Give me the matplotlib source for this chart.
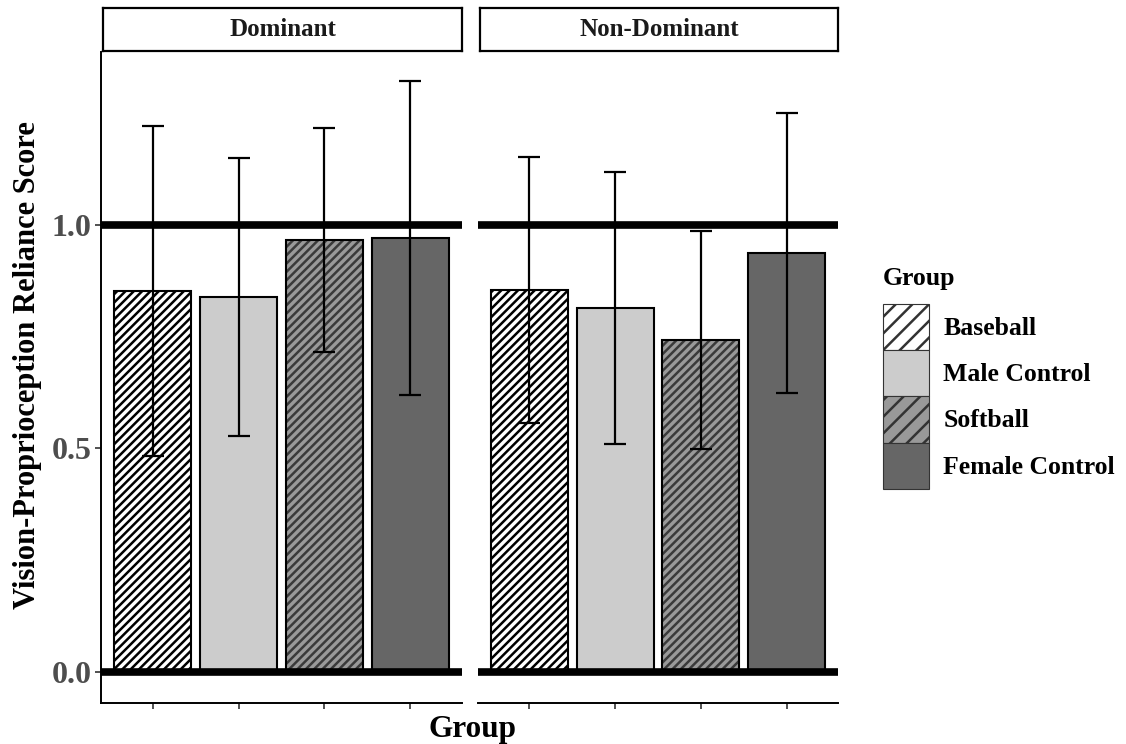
import matplotlib
matplotlib.use("Agg")
import matplotlib.pyplot as plt
from matplotlib.patches import Patch
import numpy as np

plt.rcParams['font.family'] = ['Liberation Serif', 'DejaVu Serif']
plt.rcParams['font.weight'] = 'bold'
plt.rcParams['hatch.linewidth'] = 1.8

groups = ["Baseball", "Male Control", "Softball", "Female Control"]
panels = ["Dominant", "Non-Dominant"]
# mean reliance score per panel, order as groups
means = {
    "Dominant": [0.852, 0.839, 0.966, 0.971],
    "Non-Dominant": [0.855, 0.814, 0.743, 0.937],
}
errs = {
    "Dominant": [0.369, 0.311, 0.251, 0.352],
    "Non-Dominant": [0.297, 0.305, 0.244, 0.313],
}
fills = ["#ffffff", "#cccccc", "#999999", "#666666"]
hatch_cols = ["#000000", "#cccccc", "#3a3a3a", "#666666"]
hatches = ["////", None, "////", None]
legend_hatches = ["//", None, "//", None]

fig = plt.figure(figsize=(11.26, 7.44), dpi=100)
W, H = 1126, 744

def fx(px):
    return px / W

def fy(py):
    return 1 - py / H

panel_x = [(101, 462), (478, 838)]
top, bottom = 52, 703

x = np.arange(1, 5)
for i, name in enumerate(panels):
    x0, x1 = panel_x[i]
    ax = fig.add_axes([fx(x0), fy(bottom), fx(x1 - x0), (bottom - top) / H])
    # hatch coloured by edgecolor, so draw fill+hatch first, then outline on top
    for j in range(4):
        ax.bar(x[j], means[name][j], width=0.9, color=fills[j],
               edgecolor=hatch_cols[j], hatch=hatches[j], linewidth=0, zorder=2)
        ax.bar(x[j], means[name][j], width=0.9, color="none",
               edgecolor="black", linewidth=1.5, zorder=3)
    ax.errorbar(x, means[name], yerr=errs[name], fmt="none", ecolor="black",
                elinewidth=1.6, capsize=8, capthick=1.6, zorder=4)
    ax.axhline(0, color="black", lw=5.5, zorder=5)
    ax.axhline(1, color="black", lw=5.5, zorder=1)
    ax.set_xlim(0.4, 4.6)
    ax.set_ylim(-0.0694, 1.387)
    ax.set_xticks(x)
    ax.set_xticklabels([])
    ax.tick_params(axis="x", length=4, width=1.2, color="#333333")
    for s in ["top", "right"]:
        ax.spines[s].set_visible(False)
    ax.spines["bottom"].set_linewidth(1.4)
    ax.spines["left"].set_linewidth(1.4)
    if i == 0:
        ax.set_yticks([0, 0.5, 1.0])
        ax.set_yticklabels(["0.0", "0.5", "1.0"], fontsize=23, color="#4d4d4d",
                           fontweight="bold")
        ax.tick_params(axis="y", length=4, width=1.2, color="#333333", pad=3)
    else:
        ax.spines["left"].set_visible(False)
        ax.set_yticks([])

    # facet strip
    sx = fig.add_axes([fx(x0 + 2), fy(51), fx(x1 - x0 - 2), 43 / H])
    sx.set_xticks([])
    sx.set_yticks([])
    for s in sx.spines.values():
        s.set_linewidth(1.6)
    sx.text(0.5, 0.5, name, ha="center", va="center", fontsize=18,
            fontweight="bold", color="#1a1a1a", transform=sx.transAxes)

fig.text(fx(473), fy(729), "Group", ha="center", va="center", fontsize=22.5,
         fontweight="bold")
fig.text(fx(28), fy(365), "Vision-Proprioception Reliance Score", ha="center",
         va="center", rotation=90, fontsize=22, fontweight="bold")

# legend title placed by hand, keys below it
fig.text(fx(883), fy(279), "Group", ha="left", va="center", fontsize=18.5,
         fontweight="bold")
handles = [Patch(facecolor=fills[j], edgecolor="#333333", hatch=legend_hatches[j],
                 linewidth=0.8) for j in range(4)]
leg = fig.legend(handles, groups, loc="upper left", bbox_to_anchor=(fx(883), fy(304)),
                 frameon=False, borderpad=0, borderaxespad=0, handlelength=1.8,
                 handleheight=2.39, labelspacing=0, handletextpad=0.55,
                 prop={"size": 18.5, "weight": "bold"})

fig.savefig("out.png", dpi=100)
